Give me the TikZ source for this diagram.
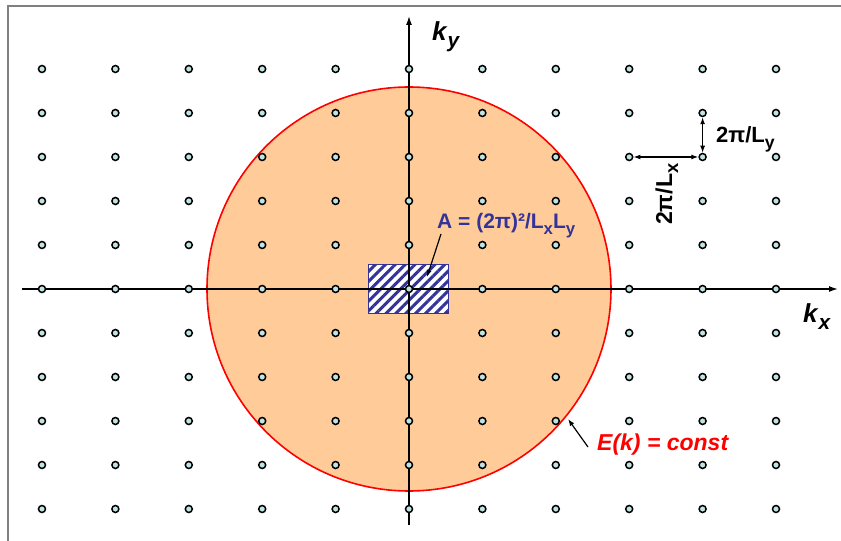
\documentclass[tikz,border=0pt]{standalone}
\usepackage{fontspec}
\setmainfont{Liberation Sans}
\usetikzlibrary{arrows.meta, patterns.meta}

\definecolor{dotfill}{RGB}{192,228,228}
\definecolor{fermifill}{RGB}{255,204,153}
\definecolor{cellblue}{RGB}{51,51,153}

\tikzset{
  lattice/.style = {circle, draw=black, fill=dotfill, line width=1.5pt, minimum size=7pt, inner sep=0pt},
  axis/.style = {line width=1.4pt, -{Latex[length=9pt,width=6pt]}},
  spacing/.style = {line width=1.2pt, {Latex[length=7pt,width=5pt]}-{Latex[length=7pt,width=5pt]}},
  pointer/.style = {line width=1.2pt, -{Latex[length=7pt,width=5pt]}},
  label/.style = {inner sep=0pt, anchor=base west}
}
\newcommand{\lsub}[1]{\raisebox{-0.5ex}{\scalebox{0.8}{#1}}}
\newcommand{\fs}[1]{\fontsize{#1}{#1}\selectfont\bfseries}

\begin{document}
\begin{tikzpicture}[x=1pt, y=1pt]
\useasboundingbox (-409,-252) rectangle (432,289);

%frame
\draw[gray, line width=1.2pt] (-401,-252) -- (-401,283) -- (432,283);

%constant energy circle
\coordinate (O) at (0,0);
\draw[red, fill=fermifill, line width=1.6pt] (O) circle (202);

%unit cell
\draw[cellblue, line width=1pt, preaction={fill=white},
  pattern={Lines[angle=45,distance=7pt,line width=3pt]}, pattern color=cellblue]
  (-40,-24) rectangle (40,24);

%axes
\coordinate (xl) at (-387,0);
\coordinate (xr) at (429,0);
\coordinate (yb) at (0,-236);
\coordinate (yt) at (0,273);
\draw[axis] (xl) -- (xr);
\draw[axis] (yb) -- (yt);

%lattice points
\foreach \i in {0,...,10}
  \foreach \j in {0,...,10}
    \node[lattice] (p-\i-\j) at ({(\i-5)*73.4}, {(\j-5)*44}) {};

%spacing
\draw[spacing] (p-8-8) -- (p-9-8);
\draw[spacing] (p-9-8) -- (p-9-9);
\node[label, rotate=90, font=\fs{23}] (lxlabel) at (263,64) {2π/L\lsub{x}};
\node[label, font=\fs{22}] (lylabel) at (307,146) {2π/L\lsub{y}};

%axis labels
\node[label, font=\fs{26}] (kylabel) at (23,248) {\textit{k}\lsub{\textit{y}}};
\node[label, font=\fs{26}] (kxlabel) at (394,-34) {\textit{k}\lsub{\textit{x}}};

%cell area
\node[label, font=\fs{21}, text=cellblue] (alabel) at (28,60) {A = (2π)²/L\lsub{x}L\lsub{y}};
\coordinate (atip) at (18,12);
\draw[pointer] ([shift={(4,-5)}]alabel.base west) -- (atip);

%energy surface
\node[label, font=\fs{23}, text=red] (elabel) at (188,-161) {\textit{E(k) = const}};
\coordinate (etip) at (159,-130);
\draw[pointer] ([shift={(-9,3)}]elabel.base west) -- (etip);
\end{tikzpicture}
\end{document}
